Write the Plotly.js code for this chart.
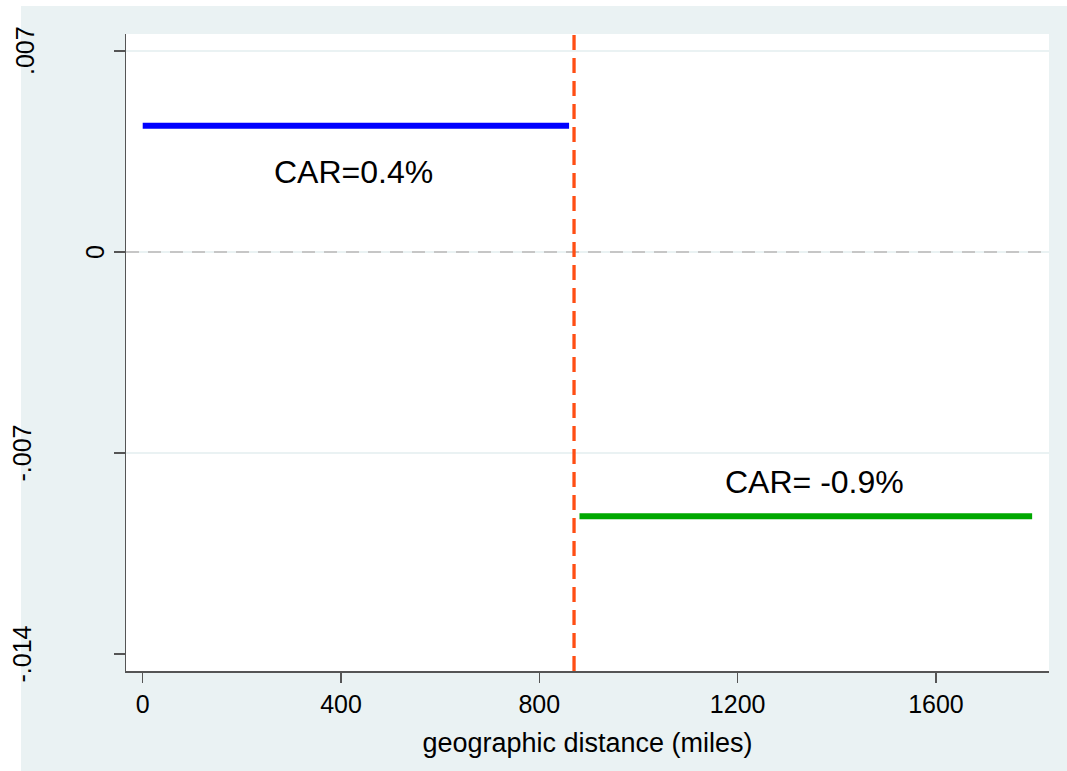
<!DOCTYPE html>
<html>
<head>
<meta charset="utf-8">
<script src="https://cdn.plot.ly/plotly-3.0.1.min.js"></script>
<style>
  html, body { margin: 0; padding: 0; background: #ffffff; }
  #chart { width: 1067px; height: 771px; }
</style>
</head>
<body>
<div id="chart"></div>
<script>
// ---- data ----
const nearX = [0, 860];          // miles, nearby segment
const nearY = [0.0044, 0.0044];  // CAR
const farX = [881, 1794];        // miles, distant segment
const farY = [-0.0092, -0.0092]; // CAR
const cutoff = 870;              // vertical dashed threshold (miles)
const xTicks = [0, 400, 800, 1200, 1600];
const xTickText = ['0', '400', '800', '1200', '1600'];
const yTicks = [0.007, 0, -0.007, -0.014];
const yTickText = ['.007', '0', '-.007', '-.014'];
const carText = ['CAR=0.4%', 'CAR= -0.9%'];
const carX = [426, 1354];
const carY = [0.0028, -0.0080];
const xTitle = 'geographic distance (miles)';

const FONT = 'Liberation Sans, Arial, sans-serif';
const PANEL = '#EAF2F3';

const traces = [
  { x: nearX, y: nearY, type: 'scatter', mode: 'lines',
    line: { color: '#0000FF', width: 6 }, hoverinfo: 'skip', showlegend: false },
  { x: farX, y: farY, type: 'scatter', mode: 'lines',
    line: { color: '#00A800', width: 6 }, hoverinfo: 'skip', showlegend: false }
];

const shapes = [
  // outer graph region (Stata s2color)
  { type: 'rect', xref: 'paper', yref: 'paper', x0: -0.11376, x1: 1.1, y0: -0.25, y1: 1.04396,
    fillcolor: PANEL, line: { width: 0 }, layer: 'below' },
  // white plot region
  { type: 'rect', xref: 'paper', yref: 'paper', x0: 0, x1: 1, y0: 0, y1: 1,
    fillcolor: '#ffffff', line: { width: 0 }, layer: 'below' }
];
// grid lines at the upper and middle ticks
[yTicks[0], yTicks[1], yTicks[2]].forEach(v => {
  shapes.push({ type: 'line', xref: 'paper', yref: 'y', x0: 0, x1: 1, y0: v, y1: v,
    line: { color: PANEL, width: 2 }, layer: 'below' });
});
// dashed zero reference line
shapes.push({ type: 'line', xref: 'paper', yref: 'y', x0: 0, x1: 1, y0: 0, y1: 0,
  line: { color: '#C6C6C6', width: 2, dash: '13px,9px' }, layer: 'below' });
// vertical threshold line
shapes.push({ type: 'line', xref: 'x', yref: 'paper', x0: cutoff, x1: cutoff, y0: 0, y1: 1,
  line: { color: 'rgb(255,78,20)', width: 3.3, dash: '15px,8px' }, layer: 'above' });

const annotations = [];
carText.forEach((t, i) => {
  annotations.push({ x: carX[i], y: carY[i], xref: 'x', yref: 'y', text: t, showarrow: false,
    xanchor: 'center', yanchor: 'middle', font: { family: FONT, size: 32, color: '#000' } });
});
// rotated y tick labels (Stata places them unevenly)
const yLabX = [-0.1094, -0.0336, -0.1132, -0.1132];
yTicks.forEach((v, i) => {
  annotations.push({ x: yLabX[i], y: v, xref: 'paper', yref: 'y', text: yTickText[i],
    showarrow: false, textangle: -90, xanchor: 'center', yanchor: 'middle',
    font: { family: FONT, size: 25, color: '#000' } });
});

const layout = {
  width: 1067, height: 771,
  margin: { l: 126, r: 18, t: 34, b: 100, pad: 0 },
  paper_bgcolor: '#ffffff',
  plot_bgcolor: '#ffffff',
  font: { family: FONT, color: '#000' },
  showlegend: false,
  xaxis: {
    range: [-33.7, 1828], tickmode: 'array', tickvals: xTicks, ticktext: xTickText,
    ticks: 'outside', ticklen: 10, tickwidth: 1.5, tickcolor: '#555',
    showline: true, linecolor: '#555', linewidth: 1.5,
    showgrid: false, zeroline: false,
    tickfont: { family: FONT, size: 25, color: '#000' },
    title: { text: xTitle, font: { family: FONT, size: 27, color: '#000' }, standoff: 16 }
  },
  yaxis: {
    range: [-0.014592, 0.007592], tickmode: 'array', tickvals: yTicks,
    ticks: 'outside', ticklen: 11, tickwidth: 1.5, tickcolor: '#555',
    showline: true, linecolor: '#555', linewidth: 1.5,
    showgrid: false, zeroline: false, showticklabels: false
  },
  shapes: shapes,
  annotations: annotations
};

Plotly.newPlot('chart', traces, layout, { displayModeBar: false, staticPlot: true });
</script>
</body>
</html>
